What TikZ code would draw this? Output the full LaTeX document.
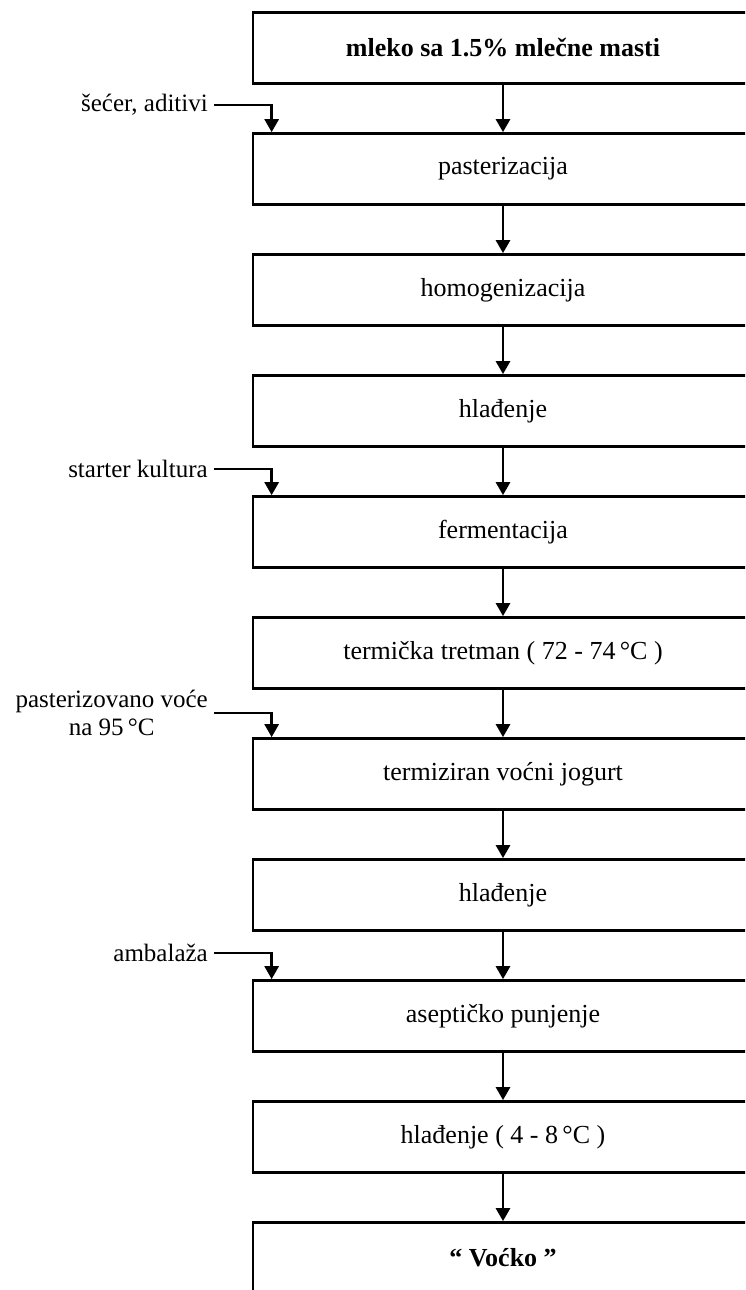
\documentclass[tikz,border=0pt]{standalone}
\usepackage{fontspec}
\setmainfont{Liberation Serif}
\usetikzlibrary{arrows.meta}
\begin{document}
\begin{tikzpicture}[x=1pt,y=-1pt,
  box/.style={draw,line width=2.7pt,minimum width=500pt,minimum height=71pt,inner sep=0pt,font=\fontsize{26}{31}\selectfont},
  lab/.style={anchor=east,inner sep=0pt,inner xsep=6pt,align=center,font=\fontsize{25}{28}\selectfont},
  flow/.style={line width=2.7pt,-{Triangle[width=14pt,length=13pt]}}]
\useasboundingbox (0,0) rectangle (745,1290);
\clip (0,0) rectangle (745,1290);
\node[box] (b1)  at (503,48)   {\textbf{mleko sa 1.5\% mlečne masti}};
\node[box] (b2)  at (503,169)  {pasterizacija};
\node[box] (b3)  at (503,290)  {homogenizacija};
\node[box] (b4)  at (503,411)  {hlađenje};
\node[box] (b5)  at (503,532)  {fermentacija};
\node[box] (b6)  at (503,653)  {termička tretman ( 72 - 74\,°C )};
\node[box] (b7)  at (503,774)  {termiziran voćni jogurt};
\node[box] (b8)  at (503,895)  {hlađenje};
\node[box] (b9)  at (503,1016) {aseptičko punjenje};
\node[box] (b10) at (503,1137) {hlađenje ( 4 - 8\,°C )};
\node[box] (b11) at (503,1258) {\textbf{“ Voćko ”}};
\foreach \a/\b in {b1/b2,b2/b3,b3/b4,b4/b5,b5/b6,b6/b7,b7/b8,b8/b9,b9/b10,b10/b11}
  \draw[flow] (\a.south) -- (\b.north);
\node[lab] (s1) at (214,105) {šećer, aditivi};
\node[lab] (s2) at (214,469) {starter kultura};
\node[lab] (s3) at (214,713) {pasterizovano voće\\na 95\,°C};
\node[lab] (s4) at (214,953) {ambalaža};
\draw[flow] (s1.east) -| ([xshift=20pt]b2.north west);
\draw[flow] (s2.east) -| ([xshift=20pt]b5.north west);
\draw[flow] (s3.east) -| ([xshift=20pt]b7.north west);
\draw[flow] (s4.east) -| ([xshift=20pt]b9.north west);
\end{tikzpicture}
\end{document}
